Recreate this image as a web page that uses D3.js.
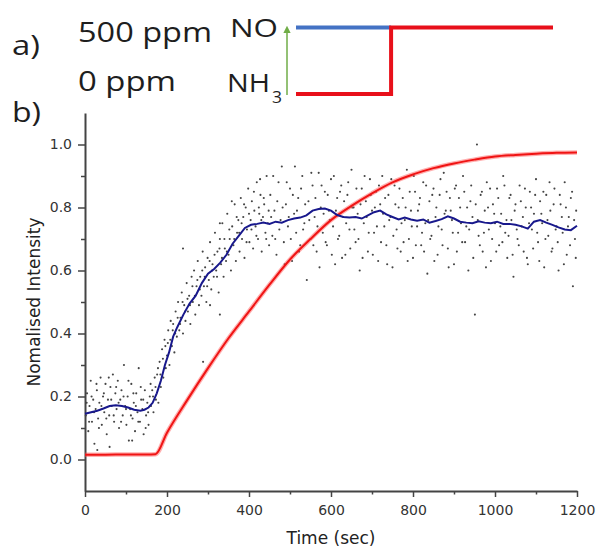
<!DOCTYPE html>
<html>
<head>
<meta charset="utf-8">
<script src="https://cdn.jsdelivr.net/npm/d3@7"></script>
<style>
	body { margin: 0; background: #fff; }
	svg { display: block; }
</style>
</head>
<body>
<div id="chart"></div>
<script>
const width = 597
const height = 550
const margin = {left: 85, right: 20, top: 113, bottom: 59}

// schematic of the gas switch (panel a)
var levels = ["0 ppm", "500 ppm"]
var no_steps = [[0, "500 ppm"], [0.37, "500 ppm"]]
var nh3_steps = [[0, "0 ppm"], [0.37, "0 ppm"], [0.37, "500 ppm"], [1, "500 ppm"]]

// panel b data
var x_ticks = [0, 200, 400, 600, 800, 1000, 1200]
var y_ticks = [0.0, 0.2, 0.4, 0.6, 0.8, 1.0]

var red_curve = [[0,0.015],[50,0.015],[100,0.016],[150,0.016],[172,0.017],[200,0.085],[250,0.19],[300,0.29],
	[350,0.385],[400,0.47],[450,0.555],[500,0.635],[550,0.70],[600,0.76],[650,0.805],[700,0.845],[750,0.88],
	[800,0.905],[850,0.925],[900,0.94],[950,0.952],[1000,0.962],[1050,0.967],[1100,0.971],[1150,0.974],[1200,0.975]]

var blue_curve = [[0,0.145],[15,0.15],[30,0.155],[45,0.162],[60,0.17],[75,0.172],[90,0.17],[105,0.165],[120,0.158],
	[135,0.155],[145,0.158],[155,0.165],[165,0.18],[175,0.21],[185,0.25],[195,0.30],[205,0.34],[215,0.39],[225,0.42],
	[240,0.46],[255,0.495],[270,0.52],[285,0.56],[300,0.59],[315,0.605],[330,0.625],[345,0.65],[360,0.685],[375,0.71],
	[390,0.735],[405,0.745],[420,0.748],[435,0.752],[450,0.748],[465,0.755],[480,0.752],[495,0.76],[510,0.765],
	[525,0.768],[540,0.775],[555,0.79],[570,0.795],[585,0.797],[600,0.79],[615,0.776],[630,0.77],[645,0.768],
	[660,0.77],[675,0.765],[690,0.775],[705,0.785],[720,0.79],[735,0.778],[750,0.77],[765,0.762],[780,0.768],
	[795,0.762],[810,0.758],[825,0.762],[840,0.752],[855,0.757],[870,0.763],[885,0.772],[900,0.765],[915,0.755],
	[930,0.752],[945,0.75],[960,0.756],[975,0.752],[990,0.75],[1005,0.755],[1020,0.748],[1035,0.748],[1050,0.745],
	[1065,0.74],[1080,0.733],[1095,0.755],[1110,0.76],[1125,0.752],[1140,0.745],[1155,0.737],[1170,0.73],
	[1185,0.728],[1200,0.742]]

// raw scatter
var grey_points = [
	[2,0.14],[5,0.21],[8,0.09],[11,0.17],[14,0.25],[17,0.12],[20,0.19],[23,0.05],[26,0.16],[29,0.22],[32,0.13],[35,0.18],
	[38,0.26],[41,0.11],[44,0.2],[47,0.15],[50,0.24],[53,0.08],[56,0.19],[59,0.14],[62,0.23],[65,0.17],[68,0.27],[71,0.12],
	[74,0.21],[77,0.16],[80,0.25],[83,0.1],[86,0.19],[89,0.22],[92,0.14],[95,0.3],[98,0.17],[101,0.11],[104,0.2],[107,0.06],
	[110,0.16],[113,0.24],[116,0.13],[119,0.18],[122,0.09],[125,0.21],[128,0.15],[131,0.29],[134,0.12],[137,0.19],[140,0.16],
	[143,0.08],[146,0.22],[149,0.14],[152,0.18],[155,0.11],[158,0.2],[161,0.17],[30,0.03],[60,0.04],[115,0.06],
	[4,0.18],[10,0.12],[16,0.2],[22,0.15],[28,0.24],[34,0.1],[40,0.17],[46,0.21],[52,0.13],[58,0.26],[64,0.19],[70,0.14],
	[76,0.23],[82,0.18],[88,0.12],[94,0.2],[100,0.16],[106,0.25],[112,0.14],[118,0.21],[124,0.17],[130,0.12],[136,0.23],
	[142,0.19],[148,0.1],[154,0.15],[160,0.24],
	[164,0.22],[167,0.15],[170,0.26],[173,0.19],[176,0.27],[179,0.18],[182,0.31],[185,0.23],[188,0.35],[191,0.26],[194,0.38],
	[197,0.29],[200,0.33],[203,0.41],[206,0.3],[209,0.44],[212,0.36],[215,0.43],[218,0.34],[221,0.47],[224,0.39],[227,0.5],
	[230,0.41],[233,0.45],[236,0.53],[239,0.4],[242,0.49],[245,0.44],[248,0.56],[251,0.47],[254,0.52],[257,0.43],[260,0.58],
	[166,0.2],[172,0.23],[178,0.29],[184,0.27],[190,0.32],[196,0.36],[202,0.37],[208,0.38],[214,0.41],[220,0.4],[226,0.45],
	[232,0.43],[238,0.5],[244,0.47],[250,0.51],[256,0.49],[239,0.67],
	[263,0.5],[266,0.6],[269,0.46],[272,0.55],[275,0.63],[278,0.49],[281,0.58],[284,0.52],[287,0.66],[290,0.55],[293,0.61],
	[296,0.5],[299,0.64],[302,0.57],[305,0.69],[308,0.54],[311,0.62],[314,0.58],[317,0.72],[320,0.6],[323,0.66],[326,0.53],
	[329,0.7],[332,0.62],[335,0.75],[338,0.58],[341,0.67],[344,0.63],[347,0.78],[350,0.65],[353,0.7],[356,0.6],[359,0.74],
	[362,0.68],[365,0.81],[368,0.63],[371,0.72],[374,0.76],[377,0.66],[380,0.83],[383,0.7],[386,0.77],[389,0.64],[392,0.8],
	[395,0.73],[398,0.86],[401,0.69],[404,0.76],[407,0.82],[410,0.67],[413,0.79],[416,0.74],[419,0.88],[422,0.7],[425,0.78],
	[428,0.84],[431,0.66],[434,0.77],[437,0.81],[440,0.72],[443,0.9],[446,0.75],[449,0.68],
	[262,0.55],[268,0.52],[274,0.57],[280,0.54],[286,0.6],[292,0.58],[298,0.55],[304,0.63],[310,0.6],[316,0.65],[322,0.58],
	[328,0.67],[334,0.64],[340,0.7],[346,0.66],[352,0.73],[358,0.82],[364,0.7],[370,0.77],[376,0.72],[382,0.75],[388,0.81],
	[394,0.69],[400,0.78],[406,0.73],[412,0.85],[418,0.71],[424,0.8],[427,0.89],[430,0.76],[436,0.83],[442,0.7],[448,0.79],
	[288,0.31],[305,0.49],[329,0.46],[329,0.75],
	[452,0.84],[457,0.71],[462,0.79],[467,0.65],[472,0.88],[477,0.76],[480,0.93],[485,0.69],[490,0.81],[495,0.74],[500,0.86],
	[505,0.63],[510,0.78],[512,0.93],[515,0.72],[520,0.83],[525,0.68],[530,0.9],[535,0.75],[541,0.57],[545,0.82],[550,0.7],
	[555,0.87],[560,0.77],[565,0.66],[570,0.91],[575,0.8],[580,0.72],[585,0.85],[590,0.68],[595,0.79],[600,0.89],[605,0.74],
	[610,0.62],[615,0.83],[620,0.71],[625,0.87],[630,0.77],[635,0.65],[640,0.84],[645,0.73],[650,0.92],[655,0.8],[660,0.69],
	[665,0.78],[670,0.6],[675,0.86],[680,0.75],[685,0.82],[690,0.66],[695,0.89],[700,0.79],[705,0.72],[710,0.85],[715,0.63],
	[720,0.81],[725,0.9],[730,0.74],[735,0.68],[740,0.84],[745,0.77],[750,0.61],[755,0.87],[760,0.73],[765,0.8],[770,0.66],
	[775,0.83],[780,0.76],[785,0.92],[790,0.7],[795,0.79],[800,0.64],[805,0.85],[810,0.74],[815,0.81],[820,0.68],[825,0.88],
	[830,0.75],[835,0.59],[840,0.82],[845,0.71],[850,0.86],[855,0.77],[860,0.65],[865,0.84],[870,0.73],[875,0.91],[880,0.79],
	[885,0.67],[890,0.83],[895,0.76],[900,0.62],[905,0.87],[910,0.72],[915,0.8],[920,0.69],[925,0.85],[930,0.74],[935,0.6],
	[940,0.82],[945,0.77],[951,0.46],[956,1.0],[960,0.71],[965,0.84],[970,0.66],[975,0.79],[980,0.88],[985,0.73],[990,0.63],
	[995,0.81],[1000,0.75],[1005,0.86],[1010,0.68],[1015,0.78],[1020,0.9],[1025,0.72],[1030,0.64],[1035,0.83],[1040,0.76],
	[1045,0.58],[1050,0.81],[1055,0.7],[1060,0.87],[1065,0.74],[1070,0.66],[1075,0.8],[1080,0.62],[1085,0.85],[1090,0.73],
	[1095,0.78],[1100,0.89],[1105,0.69],[1110,0.82],[1115,0.75],[1120,0.61],[1125,0.84],[1130,0.71],[1135,0.79],[1140,0.67],
	[1145,0.86],[1150,0.74],[1155,0.6],[1160,0.81],[1165,0.72],[1170,0.88],[1175,0.65],[1180,0.77],[1185,0.83],[1190,0.55],
	[1195,0.7],[1198,0.79],
	[454,0.77],[459,0.9],[464,0.7],[469,0.82],[474,0.73],[482,0.8],[487,0.62],[492,0.88],[497,0.77],[502,0.7],[507,0.84],
	[517,0.79],[522,0.66],[527,0.86],[532,0.73],[537,0.81],[547,0.76],[552,0.91],[557,0.68],[562,0.83],[567,0.74],[572,0.61],
	[577,0.87],[582,0.78],[587,0.69],[592,0.84],[597,0.76],[602,0.65],[607,0.9],[612,0.79],[617,0.7],[622,0.85],[627,0.64],
	[632,0.82],[637,0.75],[642,0.88],[647,0.67],[652,0.8],[657,0.73],[662,0.86],[667,0.7],[672,0.81],[677,0.64],[682,0.9],
	[687,0.77],[692,0.72],[697,0.84],[702,0.65],[707,0.8],[712,0.74],[717,0.87],[722,0.69],[727,0.78],[732,0.83],[737,0.62],
	[742,0.76],[747,0.89],[752,0.71],[757,0.81],[762,0.67],[767,0.86],[772,0.75],[777,0.69],[782,0.8],[787,0.63],[792,0.85],
	[797,0.74],[802,0.9],[807,0.68],[812,0.79],[817,0.83],[822,0.72],[827,0.66],[832,0.87],[837,0.76],[842,0.7],[847,0.84],
	[852,0.63],[857,0.8],[862,0.74],[867,0.89],[872,0.68],[877,0.78],[882,0.85],[887,0.61],[892,0.79],[897,0.72],[902,0.86],
	[907,0.66],[912,0.83],[917,0.75],[922,0.9],[927,0.69],[932,0.8],[937,0.73],[942,0.87],[947,0.64],[953,0.81],[958,0.76],
	[963,0.68],[968,0.85],[973,0.72],[978,0.61],[983,0.8],[988,0.86],[993,0.7],[998,0.78],[1003,0.66],[1008,0.83],[1013,0.74],
	[1018,0.69],[1023,0.87],[1028,0.76],[1033,0.71],[1038,0.84],[1043,0.65],[1048,0.79],[1053,0.73],[1058,0.68],[1063,0.82],
	[1068,0.77],[1073,0.86],[1078,0.64],[1083,0.75],[1088,0.8],[1093,0.67],[1098,0.84],[1103,0.72],[1108,0.63],[1113,0.78],
	[1118,0.85],[1123,0.7],[1128,0.76],[1133,0.88],[1138,0.66],[1143,0.81],[1148,0.73],[1153,0.69],[1158,0.84],[1163,0.77],
	[1168,0.62],[1173,0.8],[1178,0.74],[1183,0.68],[1188,0.85],[1193,0.76],[1197,0.64]
]

var svg = d3.select("#chart")
	.append("svg")
	.attr("width", width)
	.attr("height", height)

// ---------- panel a: schematic ----------
let label_font = "'Open Sans', 'DejaVu Sans', sans-serif"
let add_label = function(txt, x, y, size, len) {
	return svg.append("text")
		.attr("x", x)
		.attr("y", y)
		.attr("font-family", label_font)
		.attr("font-size", size + "px")
		.attr("fill", "#1e1e1e")
		.attr("textLength", len)
		.attr("lengthAdjust", "spacingAndGlyphs")
		.text(txt)
}
add_label("a)", 12, 55, 28, 28)
add_label("b)", 12, 122, 28, 29)
add_label("500 ppm", 78, 42, 27, 134)
add_label("0 ppm", 78, 91, 27, 98)
add_label("NO", 230, 37, 25, 48)
add_label("NH", 227, 92, 25, 43)
add_label("3", 272, 103, 17, 10)

var xs = d3.scaleLinear().domain([0, 1]).range([296, 553])
var ys = d3.scalePoint().domain(levels).range([94, 27.5])
var step_line = d3.line().x(d => xs(d[0])).y(d => ys(d[1]))

// green arrow along the concentration axis
svg.append("defs").append("marker")
	.attr("id", "arrowhead")
	.attr("viewBox", "0 0 10 10")
	.attr("refX", 5).attr("refY", 5)
	.attr("markerWidth", 5).attr("markerHeight", 5)
	.attr("orient", "auto")
	.append("path")
	.attr("d", "M0,0 L10,5 L0,10 z")
	.attr("fill", "#70ad47")
svg.append("line")
	.attr("x1", 287).attr("x2", 287)
	.attr("y1", ys("0 ppm") + 1).attr("y2", ys("500 ppm") + 2)
	.attr("stroke", "#70ad47")
	.attr("stroke-width", 1.5)
	.attr("marker-end", "url(#arrowhead)")

svg.append("path")
	.datum(no_steps)
	.attr("d", step_line)
	.attr("fill", "none")
	.attr("stroke", "#4472c4")
	.attr("stroke-width", 4)
svg.append("path")
	.datum(nh3_steps)
	.attr("d", step_line)
	.attr("fill", "none")
	.attr("stroke", "#e8101a")
	.attr("stroke-width", 4)

// ---------- panel b: intensity vs time ----------
var x = d3.scaleLinear().domain([0, 1200]).range([margin.left, width - margin.right])
var y = d3.scaleLinear().domain([-0.1, 1.1]).range([height - margin.bottom, margin.top])

let tick_font = "'DejaVu Sans', sans-serif"
let axis_col = "#444"

// minor ticks first, majors on top
svg.append("g")
	.attr("transform", `translate(0,${y(-0.1)})`)
	.call(d3.axisBottom(x).tickValues(d3.range(100, 1200, 200)).tickSize(3.5).tickFormat(""))
	.call(g => g.select(".domain").remove())
svg.append("g")
	.attr("transform", `translate(${x(0)},0)`)
	.call(d3.axisLeft(y).tickValues([0.1, 0.3, 0.5, 0.7, 0.9]).tickSize(4).tickFormat(""))
	.call(g => g.select(".domain").remove())

var x_axis = svg.append("g")
	.attr("transform", `translate(0,${y(-0.1)})`)
	.call(d3.axisBottom(x).tickValues(x_ticks).tickSize(6).tickSizeOuter(0).tickPadding(8).tickFormat(d3.format("d")))
var y_axis = svg.append("g")
	.attr("transform", `translate(${x(0)},0)`)
	.call(d3.axisLeft(y).tickValues(y_ticks).tickSize(7).tickSizeOuter(0).tickPadding(6).tickFormat(d3.format(".1f")))

svg.selectAll(".tick line").attr("stroke", axis_col).attr("stroke-width", 1.5)
svg.selectAll(".tick text")
	.attr("font-family", tick_font)
	.attr("font-size", "14px")
	.attr("fill", "#333")
x_axis.select(".domain").attr("stroke", axis_col).attr("stroke-width", 2)
y_axis.select(".domain").attr("stroke", axis_col).attr("stroke-width", 2)

// grey raw points
svg.append("g")
	.selectAll("circle")
	.data(grey_points)
	.enter().append("circle")
	.attr("cx", d => x(d[0]))
	.attr("cy", d => y(d[1]))
	.attr("r", 1.05)
	.attr("fill", "#444")

var curve_line = d3.line()
	.x(d => x(d[0]))
	.y(d => y(d[1]))
	.curve(d3.curveMonotoneX)

// red trace: fuzzy band of its own points under the mean line
svg.append("path")
	.datum(red_curve)
	.attr("d", curve_line)
	.attr("fill", "none")
	.attr("stroke", "#ff4d4d")
	.attr("stroke-opacity", 0.45)
	.attr("stroke-width", 4.5)
svg.append("path")
	.datum(red_curve)
	.attr("d", curve_line)
	.attr("fill", "none")
	.attr("stroke", "#f01414")
	.attr("stroke-width", 2)

svg.append("path")
	.datum(blue_curve)
	.attr("d", curve_line.curve(d3.curveLinear))
	.attr("fill", "none")
	.attr("stroke", "#18188c")
	.attr("stroke-width", 2)

// axis titles
svg.append("text")
	.attr("x", (x(0) + x(1200)) / 2)
	.attr("y", 544)
	.attr("text-anchor", "middle")
	.attr("font-family", tick_font)
	.attr("font-size", "17px")
	.attr("fill", "#222")
	.text("Time (sec)")

svg.append("text")
	.attr("transform", `translate(40,${y(0.5)}) rotate(-90)`)
	.attr("text-anchor", "middle")
	.attr("font-family", tick_font)
	.attr("font-size", "17px")
	.attr("fill", "#222")
	.text("Nomalised Intensity")
</script>
</body>
</html>
